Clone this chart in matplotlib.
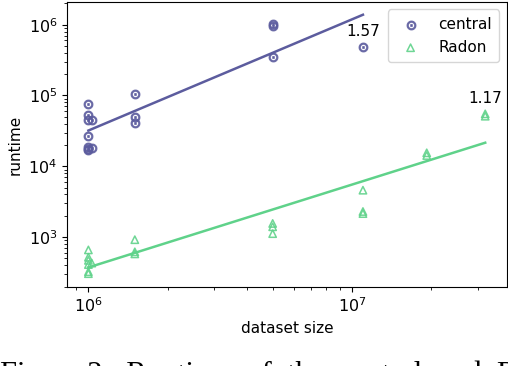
import matplotlib
matplotlib.use('Agg')
import matplotlib.pyplot as plt
import numpy as np

# central runs
central_x = [1e6, 1e6, 1e6, 1.03e6, 1e6, 1e6, 1e6, 1.03e6, 1e6,
             1.5e6, 1.5e6, 1.5e6,
             5e6, 5e6, 5e6,
             1.1e7]
central_y = [7.6e4, 5.3e4, 4.5e4, 4.5e4, 2.7e4, 1.9e4, 1.78e4, 1.8e4, 1.7e4,
             1.06e5, 5.0e4, 4.1e4,
             1.02e6, 9.5e5, 3.44e5,
             4.8e5]

# Radon runs
radon_x = [1e6, 1e6, 1e6, 1.03e6, 1e6, 1e6, 1e6,
           1.5e6, 1.5e6, 1.5e6,
           5e6, 5e6, 5e6,
           1.1e7, 1.1e7, 1.1e7,
           1.92e7, 1.92e7,
           3.2e7, 3.2e7]
radon_y = [660, 520, 470, 430, 410, 325, 305,
           920, 620, 580,
           1560, 1400, 1120,
           4600, 2300, 2150,
           1.55e4, 1.42e4,
           5.5e4, 5.1e4]

# log-log fits: log10(y) = slope * (log10(x) - 6) + offset
central_fit = (1.57, 4.505)
radon_fit = (1.17, 2.572)

c_central = '#5c5c9e'
c_radon = '#5fd28a'

fig = plt.figure(figsize=(5.08, 3.66), dpi=100)
ax = fig.add_axes([0.132, 0.216, 0.866, 0.779])

ax.scatter(central_x, central_y, marker=r'$\odot$', s=38, color=c_central, alpha=0.8, label='central')
ax.scatter(radon_x, radon_y, marker='^', s=28, facecolors='none', edgecolors=c_radon, linewidths=1.1,
           alpha=0.9, label='Radon')

for xs, ys, (slope, off), col in [(central_x, central_y, central_fit, c_central),
                                  (radon_x, radon_y, radon_fit, c_radon)]:
    lx = np.array([min(xs), max(xs)])
    ly = 10 ** (slope * (np.log10(lx) - 6) + off)
    ax.plot(lx, ly, color=col, lw=1.8)
    top = max(xs)
    ytop = max(y for x, y in zip(xs, ys) if x == top)
    ax.annotate('%.2f' % slope, (top, ytop), xytext=(0, 6), textcoords='offset points',
                ha='center', va='bottom', fontsize=11)

ax.set_xscale('log')
ax.set_yscale('log')
ax.set_xlim(8.3e5, 3.87e7)
ax.set_ylim(198, 2.1e6)
ax.set_xlabel('dataset size', fontsize=11)
ax.set_ylabel('runtime', fontsize=11)
ax.tick_params(labelsize=11.5)
ax.legend(loc='upper right', fontsize=11, borderpad=0.5)

fig.text(0.0, 1 - 360 / 366, 'Figure 2:  Runtime  of  the  central  and  Radon',
         family='Liberation Serif', fontsize=22, va='top', ha='left')

fig.savefig('out.png', dpi=100)
